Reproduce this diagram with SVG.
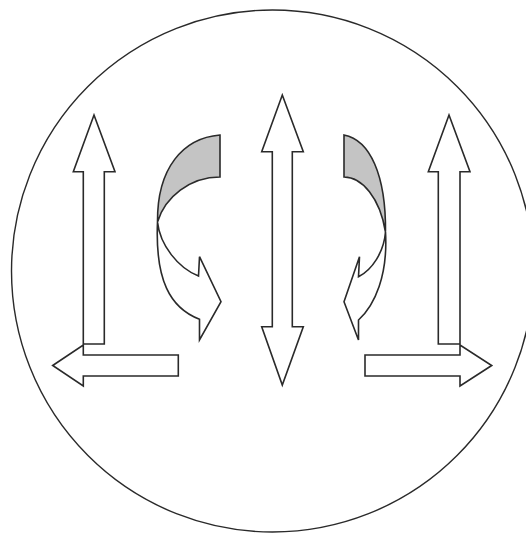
<svg xmlns="http://www.w3.org/2000/svg" width="526" height="533" viewBox="0 0 526 533">
<style>
.ln{stroke:#2a2a2a;stroke-width:1.6;stroke-linejoin:miter;fill:#ffffff}
.gr{fill:#c4c4c4}
.circ{fill:none;stroke:#2a2a2a;stroke-width:1.4}
</style>
<rect width="526" height="533" fill="#ffffff"/>
<g id="boundary">
<circle class="circ" cx="272.5" cy="271" r="261"/>
</g>
<g id="left-up-arrow">
<polygon class="ln" points="94,115 115,171.7 104.3,171.7 104.3,344 83.3,344 83.3,171.7 73.3,171.7"/>
</g>
<g id="left-side-arrow">
<polygon class="ln" points="52.7,365.5 83.3,345 83.3,355 178.3,355 178.3,376 83.3,376 83.3,386"/>
</g>
<g id="left-curved-arrow">
<path class="ln gr" d="M220,135 C183,138 157,168 157.5,222 C165,197 190,177 220,177 Z"/>
<path class="ln" d="M157.5,222 C160,245 178,268 198.5,276 L199.5,256.7 L221,301.7 L199.5,340 L199.5,319.3 C170,308 155,280 157.5,222 Z"/>
</g>
<g id="center-arrow">
<polygon class="ln" points="282.3,95 303.3,151.7 292.3,151.7 292.3,326.7 303.3,326.7 282.3,385 261.7,326.7 272.3,326.7 272.3,151.7 261.7,151.7"/>
</g>
<g id="right-curved-arrow">
<path class="ln gr" d="M344,135 C370,140 386,175 385.5,232 C380,198 362,177 344,177 Z"/>
<path class="ln" d="M385.5,232 C384,252 372,270 358.5,276.7 L359.5,256.7 L344,301.7 L358.5,340 L358.5,320 C375,305 388,275 385.5,232 Z"/>
</g>
<g id="right-up-arrow">
<polygon class="ln" points="449,115 470,171.7 460,171.7 460,344 438.3,344 438.3,171.7 428.3,171.7"/>
</g>
<g id="right-side-arrow">
<polygon class="ln" points="491.7,365.5 460,386 460,376 365,376 365,355 460,355 460,345"/>
</g>
</svg>
